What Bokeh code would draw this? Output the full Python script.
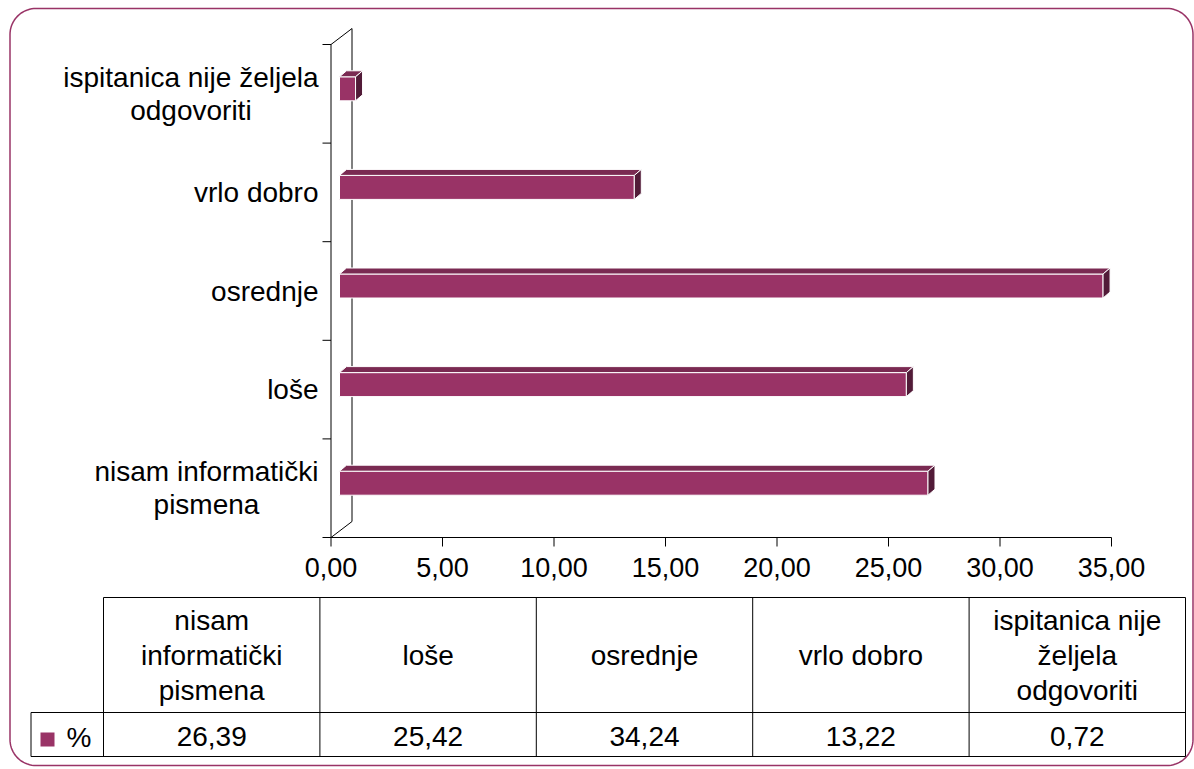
import numpy as np
from bokeh.plotting import figure
from bokeh.models import Range1d
from bokeh.core.properties import value
from bokeh.embed import file_html
from bokeh.resources import INLINE

# ---------------- data ----------------
categories = ["nisam informatički pismena", "loše", "osrednje", "vrlo dobro",
              "ispitanica nije željela odgovoriti"]
percent = [26.39, 25.42, 34.24, 13.22, 0.72]
series_name = "%"
x_ticks = [0, 5, 10, 15, 20, 25, 30, 35]

def fmt(v):
    return f"{v:.2f}".replace(".", ",")

x_tick_labels = [fmt(t) for t in x_ticks]

# ---------------- style / layout (page pixels) ----------------
W, H = 1194, 767
ORIGIN = 0
FONT = value("Liberation Sans")
FS = 28
FS_TICK = 27
BAR = "#993366"
BAR_TOP = "#7a2a52"
BAR_SIDE = "#521b38"

X0 = 330.5        # page x of value 0 (front plane)
KX = 22.3         # px per unit
KY = 98.6         # px per category band
Y_AXIS = 537.0    # page y of category axis bottom
Y_CAT0 = Y_AXIS - KY / 2

def DX(px):
    return (px - X0) / KX

def DY(py):
    return (Y_CAT0 - py) / KY

# Arial / Liberation Sans advance widths (1/1000 em)
CW = {' ': 278, 'a': 556, 'b': 556, 'c': 500, 'd': 556, 'e': 556, 'f': 278, 'g': 556,
      'h': 556, 'i': 222, 'j': 222, 'k': 500, 'l': 222, 'm': 833, 'n': 556, 'o': 556,
      'p': 556, 'r': 333, 's': 500, 't': 278, 'u': 556, 'v': 500, 'z': 500,
      'č': 500, 'š': 500, 'ž': 500, ',': 278}

def text_w(s, size=FS):
    return sum(CW.get(c, 556) for c in s) / 1000 * size

def wrap(s, max_px, size=FS):
    lines, cur = [], ""
    for w in s.split(" "):
        t = w if not cur else cur + " " + w
        if cur and text_w(t, size) > max_px:
            lines.append(cur)
            cur = w
        else:
            cur = t
    lines.append(cur)
    return lines

p = figure(width=W, height=H, output_backend="svg", toolbar_location=None,
           x_range=Range1d(DX(ORIGIN), DX(ORIGIN + W)),
           y_range=Range1d(DY(ORIGIN + H), DY(ORIGIN)),
           x_axis_type=None, y_axis_type=None, min_border=0)
p.outline_line_color = None
p.background_fill_color = "white"
p.border_fill_color = "white"

texts = []

def add_text(px, py, s, align, size=FS):
    texts.append((DX(px), DY(py), s, align, size))

# ---------------- rounded border ----------------
L, T, R, B, RAD = 9.5, 8.0, 1192.5, 765.0, 26
pts = []
for cx, cy, a0 in [(R - RAD, T + RAD, -90), (R - RAD, B - RAD, 0), (L + RAD, B - RAD, 90), (L + RAD, T + RAD, 180)]:
    ang = np.radians(np.linspace(a0, a0 + 90, 20))
    pts += list(zip(cx + RAD * np.cos(ang), cy + RAD * np.sin(ang)))
pts.append(pts[0])
p.line([DX(a) for a, b in pts], [DY(b) for a, b in pts], line_color=BAR, line_width=1.5)

# ---------------- axes & back wall ----------------
DEPTH_X, DEPTH_Y = 21, 16
seg_x0, seg_y0, seg_x1, seg_y1 = [], [], [], []
def seg(ax, ay, bx, by):
    seg_x0.append(DX(ax)); seg_y0.append(DY(ay)); seg_x1.append(DX(bx)); seg_y1.append(DY(by))

n = len(categories)
top_axis = Y_AXIS - KY * n
seg(X0, top_axis, X0, Y_AXIS)                                          # front value-0 axis
seg(X0 + DEPTH_X, top_axis - DEPTH_Y, X0 + DEPTH_X, Y_AXIS - DEPTH_Y)  # back wall
seg(X0, top_axis, X0 + DEPTH_X, top_axis - DEPTH_Y)
seg(X0, Y_AXIS, X0 + DEPTH_X, Y_AXIS - DEPTH_Y)
for k in range(n + 1):                                                 # category ticks
    yy = Y_AXIS - KY * k
    seg(X0 - 8.5, yy, X0, yy)
seg(X0, Y_AXIS, X0 + x_ticks[-1] * KX, Y_AXIS)                         # value axis line
for t in x_ticks:
    seg(X0 + t * KX, Y_AXIS, X0 + t * KX, Y_AXIS + 9)
p.segment(seg_x0, seg_y0, seg_x1, seg_y1, line_color="black", line_width=1)

for t, lab in zip(x_ticks, x_tick_labels):
    add_text(X0 + t * KX, 567, lab, "center", FS_TICK)

# category labels (right edge at 318)
for i, cat in enumerate(categories):
    lines = wrap(cat, 275)
    center_py = Y_CAT0 - KY * i
    maxw = max(text_w(s) for s in lines)
    bx = 318 - maxw / 2
    lh = 33
    for j, s in enumerate(lines):
        py = center_py + (j - (len(lines) - 1) / 2) * lh
        if len(lines) == 1:
            add_text(318, py, s, "right")
        else:
            add_text(bx, py, s, "center")

# ---------------- 3D bars ----------------
OFF = 8.5 / KX
BH_TOP, BH_BOT = 17 / KY, 7 / KY
dx, dy = 7 / KX, 6 / KY
yi = np.arange(n, dtype=float)
vals = np.array(percent)
left = np.full(n, OFF)
right = OFF + vals
top = yi + BH_TOP
bot = yi - BH_BOT
p.quad(left=left, right=right, top=top, bottom=bot, fill_color=BAR,
       line_color="white", line_width=1)
p.patches([[l, r, r + dx, l + dx] for l, r in zip(left, right)],
          [[t, t, t + dy, t + dy] for t in top],
          fill_color=BAR_TOP, line_color="white", line_width=1)
p.patches([[r, r + dx, r + dx, r] for r in right],
          [[t, t + dy, b + dy, b] for t, b in zip(top, bot)],
          fill_color=BAR_SIDE, line_color="white", line_width=1)

# ---------------- data table ----------------
TL, TR = 103, 1185
LEG_L = 30.5
HT, HM, HB = 597, 712, 756
cw = (TR - TL) / n
tx0, ty0, tx1, ty1 = [], [], [], []
def tseg(ax, ay, bx, by):
    tx0.append(DX(ax)); ty0.append(DY(ay)); tx1.append(DX(bx)); ty1.append(DY(by))
tseg(TL, HT, TR, HT)
tseg(LEG_L, HM, TR, HM)
tseg(LEG_L, HB, TR, HB)
tseg(LEG_L, HM, LEG_L, HB)
for k in range(n + 1):
    tseg(TL + k * cw, HT, TL + k * cw, HB)
p.segment(tx0, ty0, tx1, ty1, line_color="black", line_width=1)

for k, cat in enumerate(categories):
    cx = TL + (k + 0.5) * cw
    lines = wrap(cat, 196)
    hc = (HT + HM) / 2
    for j, s in enumerate(lines):
        add_text(cx, hc + (j - (len(lines) - 1) / 2) * 35, s, "center")
    add_text(cx, 736, fmt(percent[k]), "center")

p.quad(left=[DX(40)], right=[DX(54)], top=[DY(732)], bottom=[DY(746)],
       fill_color=BAR, line_color=None)
add_text(66, 737, series_name, "left")

groups = {}
for x, y, s, a, sz in texts:
    groups.setdefault((a, sz), ([], [], []))
    g = groups[(a, sz)]
    g[0].append(x); g[1].append(y); g[2].append(s)
for (align, sz), (xs, ys, ts) in groups.items():
    p.text(x=xs, y=ys, text=ts, text_font=FONT, text_font_size=f"{sz}px",
           text_align=align, text_baseline="middle", text_color="black")

open("out.html", "w").write(file_html(p, INLINE))
